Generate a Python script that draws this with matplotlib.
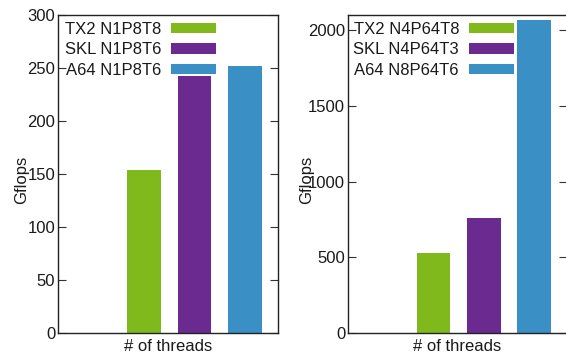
import matplotlib
matplotlib.use("Agg")
import matplotlib.pyplot as plt
from matplotlib.patches import Patch

plt.rcParams['font.family'] = ['Liberation Sans', 'DejaVu Sans']

# data
systems = ["TX2", "SKL", "A64"]
colors = ["#80b91b", "#6a2a8f", "#3a8fc4"]
labels_left = ["TX2 N1P8T8", "SKL N1P8T6", "A64 N1P8T6"]
labels_right = ["TX2 N4P64T8", "SKL N4P64T3", "A64 N8P64T6"]
gflops_left = [154, 242, 252]
gflops_right = [530, 760, 2067]
yticks_left = [0, 50, 100, 150, 200, 250, 300]
yticks_right = [0, 500, 1000, 1500, 2000]

W, H = 566, 356
FS = 12
fig = plt.figure(figsize=(W / 100, H / 100), dpi=100)


def px_axes(x0, y0, x1, y1):
    # pixel box (top-left origin) -> figure axes
    return fig.add_axes([x0 / W, 1 - y1 / H, (x1 - x0) / W, (y1 - y0) / H])


def panel(ax, values, labels, yticks, ymax, ylab_x, leg_right_px):
    xs = list(range(len(values)))
    ax.bar(xs, values, width=0.67, color=colors)
    ax.set_xlim(-1.7, 2.65)
    ax.set_ylim(0, ymax)
    ax.set_yticks(yticks)
    ax.set_xticks([])
    ax.tick_params(axis='y', direction='in', length=6, width=0.8, pad=2,
                   labelsize=FS, right=True, color='#333333',
                   labelcolor='#1a1a1a')
    for s in ax.spines.values():
        s.set_linewidth(1.0)
        s.set_color('#222222')
    ax.set_xlabel("# of threads", fontsize=FS, labelpad=4, color='#1a1a1a')
    # gnuplot put the label right on top of the tick numbers
    ax.set_ylabel("Gflops", fontsize=FS, color='#1a1a1a')
    ax.yaxis.set_label_coords(ylab_x, 0.48)
    handles = [Patch(facecolor=c, edgecolor='none') for c in colors]
    leg = ax.legend(handles, labels, loc='upper right', frameon=False,
                    markerfirst=False, fontsize=FS, handlelength=2.7,
                    handleheight=0.6, handletextpad=0.6, labelspacing=0.32,
                    borderpad=0, borderaxespad=0,
                    bbox_to_anchor=(leg_right_px / W, 1 - 22 / H),
                    bbox_transform=fig.transFigure)
    for t in leg.get_texts():
        t.set_color('#1a1a1a')


ax1 = px_axes(58, 15, 278, 333)
panel(ax1, gflops_left, labels_left, yticks_left, 300, -0.13, 216)

ax2 = px_axes(348, 15, 567, 333)
panel(ax2, gflops_right, labels_right, yticks_right, 2100, -0.155, 514)

fig.savefig("out.png", dpi=100)
